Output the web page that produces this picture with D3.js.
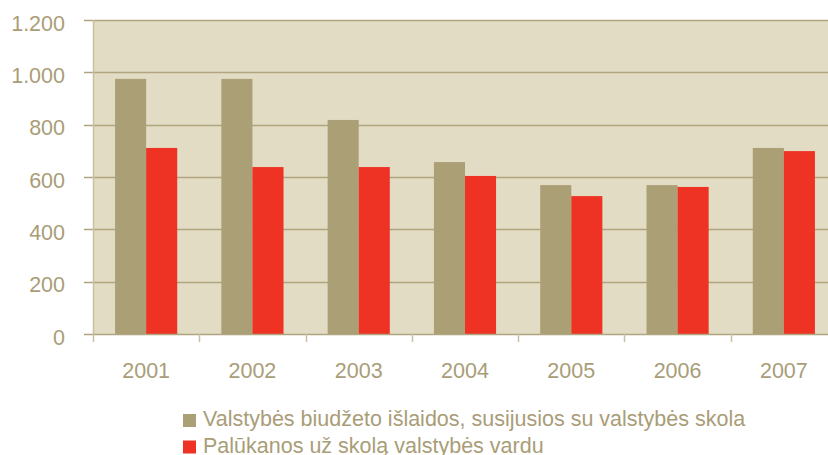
<!DOCTYPE html>
<html><head><meta charset="utf-8">
<script src="https://cdn.jsdelivr.net/npm/d3@7"></script>
<style>body{margin:0;background:#fff}svg{display:block}text{font-family:"Liberation Sans",Arial,sans-serif}</style>
</head><body><svg id="c" width="828" height="455"></svg>
<script>
const years = ["2001","2002","2003","2004","2005","2006","2007"];
const seriesNames = ["Valstybės biudžeto išlaidos, susijusios su valstybės skola","Palūkanos už skolą valstybės vardu"];
const budget = [975, 975, 818, 657, 569, 569, 711];
const interest = [711, 638, 638, 604, 527, 562, 699];
const yTicks = [0, 200, 400, 600, 800, 1000, 1200];
const yTickLabels = ["0","200","400","600","800","1.000","1.200"];
const colors = ["#ab9f76", "#ee3224"];

(function(){
const svg = d3.select("#c");
const pL = 93, pR = 837, pT = 20, pB = 334;
const x = d3.scaleBand().domain(years).range([pL, pR]).padding(0);
const xs = d3.scaleBand().domain([0,1]).range([0, x.bandwidth()]).paddingInner(0).paddingOuter(0.71);
const y = d3.scaleLinear().domain([0, 1200]).range([pB, pT]);
const txt = "#a99d78";

svg.append("rect").attr("x", pL).attr("y", pT).attr("width", pR-pL).attr("height", pB-pT).attr("fill", "#e2dcc5");

svg.append("g").selectAll("line").data(yTicks.filter(d=>d>0)).join("line")
  .attr("x1", pL-9).attr("x2", pR).attr("y1", d=>Math.round(y(d))+0.5).attr("y2", d=>Math.round(y(d))+0.5)
  .attr("stroke", "#b0a57f").attr("stroke-width", 1.5);

const data = years.map((yr,i)=>({yr, vals:[budget[i], interest[i]]}));
const g = svg.append("g").selectAll("g").data(data).join("g").attr("transform", d=>`translate(${x(d.yr)},0)`);
g.selectAll("rect").data(d=>d.vals.map((v,k)=>({v,k}))).join("rect")
  .attr("x", d=>xs(d.k)).attr("width", xs.bandwidth())
  .attr("y", d=>y(d.v)).attr("height", d=>pB - y(d.v))
  .attr("fill", d=>colors[d.k]);

svg.append("line").attr("x1", pL+0.5).attr("x2", pL+0.5).attr("y1", pT).attr("y2", pB).attr("stroke", "#c9c0a0").attr("stroke-width", 1.5);
svg.append("line").attr("x1", pL-9).attr("x2", pR).attr("y1", pB+0.5).attr("y2", pB+0.5).attr("stroke", "#b0a57f").attr("stroke-width", 1.5);
svg.append("g").selectAll("line").data(years).join("line")
  .attr("x1", d=>Math.round(x(d))+0.5).attr("x2", d=>Math.round(x(d))+0.5).attr("y1", pB).attr("y2", pB+8)
  .attr("stroke", "#c9c0a0").attr("stroke-width", 1.5);

svg.append("g").selectAll("text").data(yTicks).join("text")
  .attr("x", 65).attr("y", d=>y(d)+10.5).attr("text-anchor", "end")
  .attr("font-size", 21.5).attr("fill", txt).text((d,i)=>yTickLabels[i]);
svg.append("g").selectAll("text").data(years).join("text")
  .attr("x", d=>x(d)+x.bandwidth()/2).attr("y", 378).attr("text-anchor", "middle")
  .attr("font-size", 21.5).attr("fill", txt).text(d=>d);

const lg = svg.append("g").selectAll("g").data(seriesNames).join("g")
  .attr("transform", (d,i)=>`translate(183,${414 + i*26.5})`);
lg.append("rect").attr("width", 13).attr("height", 13).attr("fill", (d,i)=>colors[i]);
lg.append("text").attr("x", 20).attr("y", 12).attr("font-size", 21.5).attr("fill", txt).text(d=>d);
})();
</script></body></html>
